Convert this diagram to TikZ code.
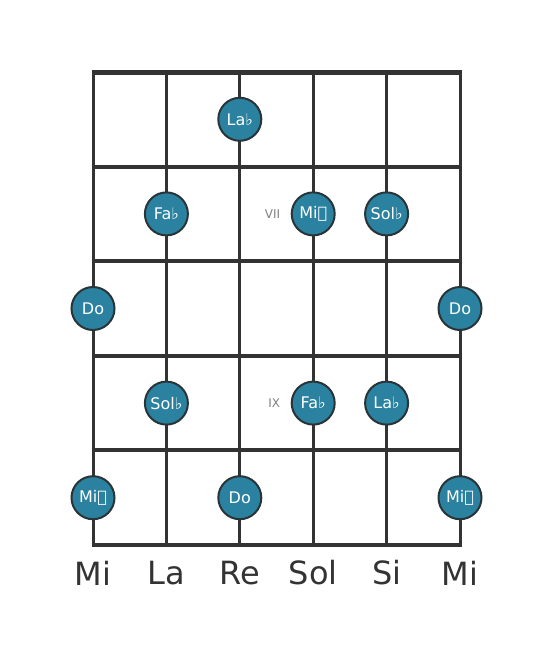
\documentclass[tikz,border=0pt]{standalone}
\usepackage{fontspec}
\setmainfont{DejaVu Sans}
\usepackage{tikz}
\usetikzlibrary{positioning}
\definecolor{gridline}{RGB}{51,51,51}
\definecolor{notefill}{RGB}{42,130,160}
\definecolor{noteedge}{RGB}{40,52,56}

\begin{document}
\begin{tikzpicture}[x=1pt,y=-1pt]
    \tikzstyle{note}=[circle,draw=noteedge,line width=2pt,fill=notefill,minimum size=43pt,inner sep=0pt,
    text=white,font=\fontsize{16}{16}\selectfont]
    \tikzstyle{fretno}=[text=gray,font=\fontsize{12}{12}\selectfont]
    \tikzstyle{stringname}=[text=gridline,font=\fontsize{32}{32}\selectfont]

    \useasboundingbox (0,0) rectangle (553,656);

    % strings
    \foreach \x in {93,166.4,239.8,313.2,386.6,460}
        \draw [gridline,line width=3pt] (\x,72) -- (\x,545);
    % frets
    \draw [gridline,line width=5pt] (91.5,72) -- (461.5,72);
    \foreach \y in {166.6,261.2,355.8,450.4}
        \draw [gridline,line width=4pt] (91.5,\y) -- (461.5,\y);
    \draw [gridline,line width=4pt] (91.5,545) -- (461.5,545);

    % notes
    \node [note] (lab1) at (239.8,119.3) {La♭};

    \node [note] (fab2) at (166.4,213.9) {Fa♭};
    \node [note] (mibb2) at (313.2,213.9) {Mi𝄫};
    \node [note] (solb2) at (386.6,213.9) {Sol♭};
    \node [fretno] (vii) [left=7pt of mibb2] {VII};

    \node [note] (do3a) at (93,308.5) {Do};
    \node [note] (do3b) at (460,308.5) {Do};

    \node [note] (solb4) at (166.4,403.1) {Sol♭};
    \node [note] (fab4) at (313.2,403.1) {Fa♭};
    \node [note] (lab4) at (386.6,403.1) {La♭};
    \node [fretno] (ix) [left=7pt of fab4] {IX};

    \node [note] (mibb5a) at (93,497.7) {Mi𝄫};
    \node [note] (do5) at (239.8,497.7) {Do};
    \node [note] (mibb5b) at (460,497.7) {Mi𝄫};

    % open strings
    \node [stringname] (s1) at (93,573) {Mi};
    \node [stringname] (s2) at (166.4,573) {La};
    \node [stringname] (s3) at (239.8,573) {Re};
    \node [stringname] (s4) at (313.2,573) {Sol};
    \node [stringname] (s5) at (386.6,573) {Si};
    \node [stringname] (s6) at (460,573) {Mi};

  \end{tikzpicture}
\end{document}
